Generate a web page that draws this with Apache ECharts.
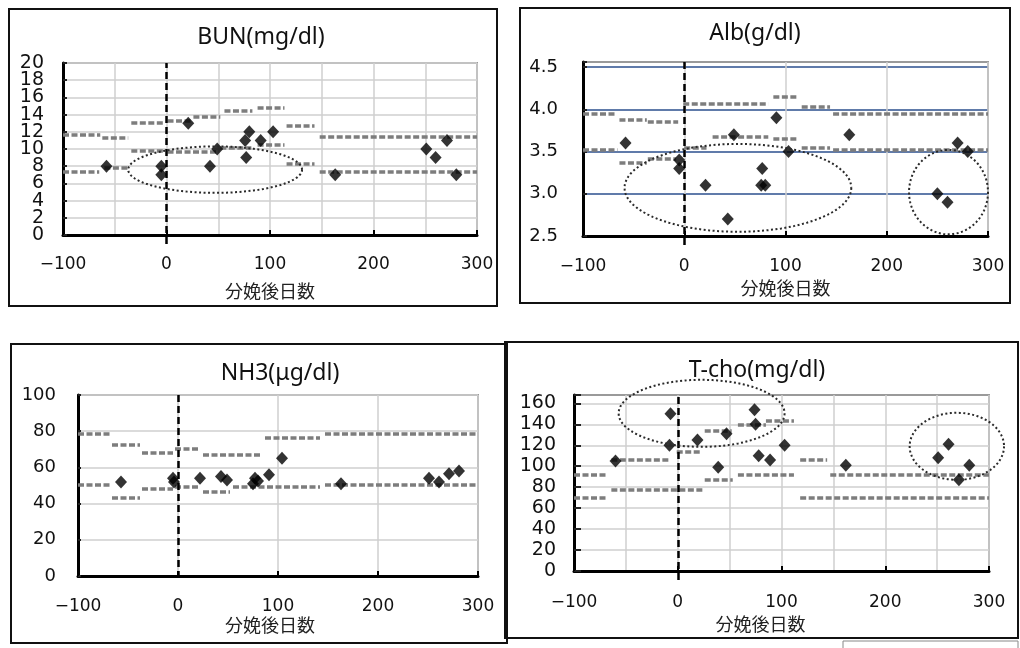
<!DOCTYPE html>
<html><head><meta charset="utf-8">
<script src="https://cdn.jsdelivr.net/npm/echarts@6/dist/echarts.min.js"></script>
<style>html,body{margin:0;padding:0;background:#fff}#c{width:1020px;height:648px}</style>
</head><body><div id="c"></div>
<script>
// ---------- shared ----------
const xTickLabels = [-100, 0, 100, 200, 300];
const xAxisTitle = '分娩後日数';
const titles = ['BUN(mg/dl)', 'Alb(g/dl)', 'NH3(μg/dl)', 'T-cho(mg/dl)'];

// ---------- BUN ----------
const bunX = [-58, -5, -5, 21, 42, 49, 76, 80, 77, 91, 103, 163, 251, 260, 271, 280];
const bunY = [8, 8, 7, 13, 8, 10, 11, 12, 9, 11, 12, 7, 10, 9, 11, 7];
const bunUpper = [[-100,-64,11.6],[-62,-37,11.3],[-34,-2,13.0],[1,24,13.25],[26,52,13.7],[56,83,14.4],[88,114,14.8],[116,143,12.7],[148,300,11.4]];
const bunLower = [[-100,-65,7.4],[-60,-36,7.8],[-34,-2,9.8],[1,48,9.7],[52,82,10.1],[88,114,10.5],[116,143,8.3],[148,300,7.4]];
const bunEllipses = [[47, 7.6, 84, 2.7]];
const bunYTicks = [0, 2, 4, 6, 8, 10, 12, 14, 16, 18, 20];

// ---------- Alb ----------
const albX = [-58, -5, -5, 21, 43, 49, 77, 76, 80, 91, 103, 163, 250, 260, 270, 280];
const albY = [3.6, 3.4, 3.3, 3.1, 2.7, 3.7, 3.3, 3.1, 3.1, 3.9, 3.5, 3.7, 3.0, 2.9, 3.6, 3.5];
const albUpper = [[-100,-67,3.95],[-64,-37,3.88],[-36,-6,3.85],[-1,83,4.06],[88,112,4.15],[116,144,4.03],[147,300,3.95]];
const albLower = [[-100,-66,3.52],[-64,-37,3.37],[-36,-8,3.42],[0,22,3.55],[28,83,3.67],[88,112,3.65],[116,144,3.55],[147,300,3.52]];
const albEllipses = [[53, 3.07, 112, 0.52], [261, 3.02, 39, 0.5]];
const albYTicks = [2.5, 3.0, 3.5, 4.0, 4.5];

// ---------- NH3 ----------
const nh3X = [-57, -5, -4, 22, 43, 49, 77, 75, 80, 91, 104, 163, 251, 261, 271, 281];
const nh3Y = [52, 54, 52, 54, 55, 53, 54, 51, 52.5, 56, 65, 51, 54, 52, 56.5, 58];
const nh3Upper = [[-100,-68,78.7],[-66,-38,72.6],[-36,-5,68.2],[-3,22,70.4],[25,82,67.2],[87,142,76.3],[147,300,78.7]];
const nh3Lower = [[-100,-68,50.4],[-66,-38,43.5],[-36,-5,48.2],[-3,22,49.5],[25,52,46.3],[55,142,49.1],[147,300,50.4]];
const nh3Ellipses = [];
const nh3YTicks = [0, 20, 40, 60, 80, 100];

// ---------- T-cho ----------
const tchoX = [-60, -7, -8, 19, 39, 47, 74, 75, 78, 89, 103, 162, 251, 261, 271, 281];
const tchoY = [105, 150, 120, 125, 99, 131, 154, 140, 110, 106, 120, 101, 108, 121, 87, 101];
const tchoUpper = [[-100,-68,92],[-64,-8,106],[-1,23,114],[26,52,134],[58,85,140],[85,112,143],[118,144,106],[147,300,92]];
const tchoLower = [[-100,-68,70],[-64,25,78],[26,53,87],[58,112,92],[118,300,70]];
const tchoEllipses = [[23, 150.5, 80, 32], [269, 119, 45.5, 32]];
const tchoYTicks = [0, 20, 40, 60, 80, 100, 120, 140, 160];

// ---------- layout / style (not data) ----------
const panels = [
  {x: bunX, y: bunY, up: bunUpper, lo: bunLower, ell: bunEllipses, yt: bunYTicks, yMax: 20, dec: 0, alternate: true,
   grid: {left: 63, top: 63, width: 414, height: 172}, minor: true, yFont: 19, yMargin: 19,
   xMargin: 21, nameGap: 47, namePad: 0, splitColor: '#cfcfcf', zeroExt: 9, tickLen: 4, title: [261, 37]},
  {x: albX, y: albY, up: albUpper, lo: albLower, ell: albEllipses, yt: albYTicks, yMax: 4.56, dec: 1,
   grid: {left: 583, top: 62, width: 405, height: 174}, minor: false, yFont: 18, yMargin: 25,
   xMargin: 22, nameGap: 43, namePad: 0, splitColor: '#2b4f8e', zeroExt: 9, tickLen: 4, title: [755, 33]},
  {x: nh3X, y: nh3Y, up: nh3Upper, lo: nh3Lower, ell: nh3Ellipses, yt: nh3YTicks, yMax: 100, dec: 0,
   grid: {left: 78, top: 395, width: 400, height: 181}, minor: false, yFont: 18, yMargin: 22,
   xMargin: 22, nameGap: 40, namePad: 16, splitColor: '#cfcfcf', zeroExt: 2, tickLen: 3, title: [280, 373]},
  {x: tchoX, y: tchoY, up: tchoUpper, lo: tchoLower, ell: tchoEllipses, yt: tchoYTicks, yMax: 168, dec: 0,
   grid: {left: 574, top: 395, width: 415, height: 176}, minor: true, yFont: 19, yMargin: 18,
   xMargin: 23, nameGap: 44, namePad: 42, splitColor: '#cfcfcf', zeroExt: 9, tickLen: 7, title: [757, 370]}
];

const numFont = 'DejaVu Sans';
const grids = [], xAxes = [], yAxes = [], extraY = [], series = [];

panels.forEach((p, i) => {
  grids.push(Object.assign({show: true, borderColor: '#9a9a9a', borderWidth: 2, backgroundColor: '#fff', outerBoundsMode: 'none', containLabel: false}, p.grid));
  const yMin = p.yt[0];
  const yInt = p.yt[1] - p.yt[0];
  const ySpan = p.yMax - yMin;
  xAxes.push({
    type: 'value', gridIndex: i,
    min: xTickLabels[0], max: xTickLabels[xTickLabels.length - 1], interval: xTickLabels[1] - xTickLabels[0],
    axisLine: {show: true, onZero: false, lineStyle: {color: '#000', width: 3}},
    axisTick: {show: true, inside: true, length: 5, lineStyle: {color: '#000', width: 2}},
    axisLabel: {margin: p.xMargin, fontFamily: numFont, fontSize: 17, color: '#111',
      showMinLabel: true, showMaxLabel: true, hideOverlap: false,
      formatter: v => v < 0 ? '\u2212' + Math.abs(v) : String(v)},
    splitLine: {show: true, lineStyle: {color: '#cfcfcf', width: 1.5}},
    minorTick: {show: false, splitNumber: 2},
    minorSplitLine: {show: p.minor, lineStyle: {color: '#cfcfcf', width: 1.5}},
    name: xAxisTitle, nameLocation: 'middle', nameGap: p.nameGap,
    nameTextStyle: {fontFamily: 'Noto Sans CJK JP', fontSize: 18, color: '#222', padding: [0, p.namePad, 0, 0]}
  });
  const splitColors = p.yt.map(() => p.splitColor).concat(['rgba(0,0,0,0)']);
  // label text for tick value v; parity filter used when labels alternate between two axes
  const labelFor = (v, parity) => {
    const idx = p.yt.findIndex(t => Math.abs(t - v) < 1e-6);
    if (idx < 0) return '';
    if (parity !== null && idx % 2 !== parity) return '';
    return v.toFixed(p.dec);
  };
  const labelStyle = {fontFamily: numFont, fontSize: p.yFont, color: '#111',
    showMinLabel: true, showMaxLabel: true, hideOverlap: false, margin: p.yMargin};
  yAxes.push({
    type: 'value', gridIndex: i, min: yMin, max: p.yMax, interval: yInt,
    axisLine: {show: true, onZero: false, lineStyle: {color: '#000', width: 3}},
    axisTick: {show: true, inside: true, length: p.tickLen, lineStyle: {color: '#222', width: 2}},
    axisLabel: Object.assign({formatter: v => labelFor(v, p.alternate ? 0 : null)}, labelStyle),
    splitLine: {show: true, lineStyle: {color: splitColors, width: 1.5}}
  });
  if (p.alternate) {
    extraY.push({
      type: 'value', gridIndex: i, position: 'left', offset: 0, min: yMin, max: p.yMax, interval: yInt,
      axisLine: {show: false}, axisTick: {show: false}, splitLine: {show: false},
      axisLabel: Object.assign({formatter: v => labelFor(v, 1)}, labelStyle)
    });
  }
  const segs = p.up.concat(p.lo).map(s => ({coords: [[s[0], s[2]], [s[1], s[2]]]}));
  series.push({
    type: 'lines', coordinateSystem: 'cartesian2d', xAxisIndex: i, yAxisIndex: i, silent: true, z: 3,
    data: segs, lineStyle: {color: '#7d7d7d', width: 3.5, type: [6, 2.5], opacity: 1}
  });
  const pxPerUnit = p.grid.height / ySpan;
  series.push({
    type: 'lines', coordinateSystem: 'cartesian2d', xAxisIndex: i, yAxisIndex: i, silent: true, z: 4, clip: false,
    data: [{coords: [[0, yMin - p.zeroExt / pxPerUnit], [0, p.yMax]]}],
    lineStyle: {color: '#000', width: 2.5, type: [7, 4], opacity: 1}
  });
  series.push({
    type: 'scatter', xAxisIndex: i, yAxisIndex: i, z: 5, silent: true,
    symbol: 'diamond', symbolSize: [12, 13],
    itemStyle: {color: '#000'},
    data: p.x.map((v, k) => [v, p.y[k]])
  });
  if (p.ell.length) {
    series.push({
      type: 'custom', xAxisIndex: i, yAxisIndex: i, z: 6, silent: true, clip: false,
      data: p.ell,
      renderItem: (params, api) => {
        const c = api.coord([api.value(0), api.value(1)]);
        const s = api.size([api.value(2), api.value(3)]);
        const pts = [];
        for (let a = 0; a <= 96; a++) {
          const t = a / 96 * Math.PI * 2;
          pts.push([c[0] + s[0] * Math.cos(t), c[1] + s[1] * Math.sin(t)]);
        }
        return {type: 'polyline', shape: {points: pts},
          style: {fill: null, stroke: '#2a2a2a', lineWidth: 2, lineDash: [2, 2.5]}};
      }
    });
  }
});

const graphics = [
  {type: 'rect', shape: {x: 9, y: 9, width: 488, height: 297}, style: {fill: null, stroke: '#111', lineWidth: 2}, z: 100},
  {type: 'rect', shape: {x: 520, y: 8, width: 490, height: 295}, style: {fill: null, stroke: '#111', lineWidth: 2}, z: 100},
  {type: 'rect', shape: {x: 11, y: 344, width: 496, height: 299}, style: {fill: null, stroke: '#111', lineWidth: 2}, z: 100},
  {type: 'rect', shape: {x: 505, y: 342, width: 513, height: 296}, style: {fill: null, stroke: '#111', lineWidth: 2}, z: 100},
  {type: 'rect', shape: {x: 843, y: 641, width: 175, height: 12}, style: {fill: null, stroke: '#888', lineWidth: 1}, z: 100}
];
panels.forEach((p, i) => {
  graphics.push({type: 'text', x: p.title[0], y: p.title[1], z: 100,
    style: {text: titles[i], font: '23px "Noto Sans", "Noto Sans CJK JP", sans-serif', fill: '#111', align: 'center', verticalAlign: 'middle'}});
});

const chart = echarts.init(document.getElementById('c'), null, {renderer: 'canvas'});
chart.setOption({
  animation: false,
  backgroundColor: '#fff',
  grid: grids, xAxis: xAxes, yAxis: yAxes.concat(extraY), series: series,
  graphic: graphics
});
</script></body></html>
